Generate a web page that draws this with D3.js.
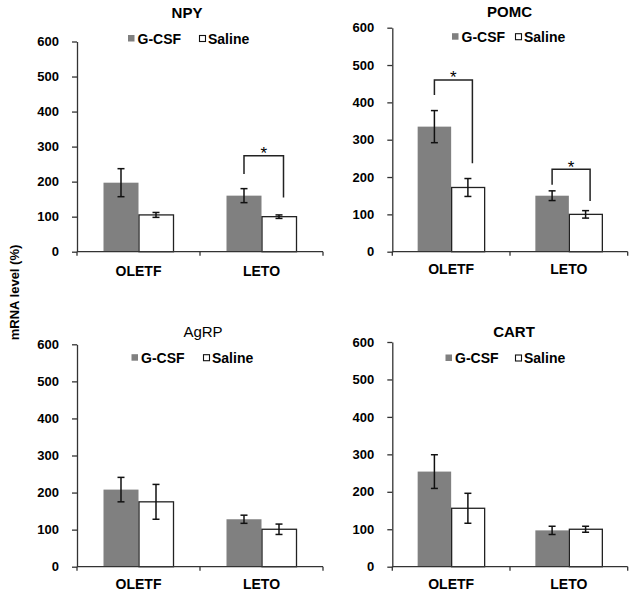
<!DOCTYPE html>
<html>
<head>
<meta charset="utf-8">
<script src="https://cdn.jsdelivr.net/npm/d3@7"></script>
<style>
  html, body { margin: 0; padding: 0; background: #fff; }
  svg { display: block; font-family: "Liberation Sans", Arial, sans-serif; }
</style>
</head>
<body>
<svg id="chart" width="635" height="596"></svg>
<script>
// ---------------- data ----------------
const categories = ["OLETF", "LETO"];
const seriesNames = ["G-CSF", "Saline"];
const panelNames = ["NPY", "POMC", "AgRP", "CART"];
const yTicks = [0, 100, 200, 300, 400, 500, 600];
const yLabel = "mRNA level (%)";

// per panel: [OLETF, LETO]
const gcsfMeans   = [[197, 160], [335, 150], [208, 128], [254, 97]];
const gcsfErrs    = [[40, 20],   [43, 13],   [33, 11],   [45, 11]];
const salineMeans = [[105, 100], [172, 100], [175, 101], [156, 100]];
const salineErrs  = [[7, 5],     [24, 10],   [47, 14],   [40, 8]];

// significance brackets
const bracketPanel    = [0, 1, 1];
const bracketCategory = ["LETO", "OLETF", "LETO"];
const bracketTop      = [274, 460, 221];
const bracketLeftEnd  = [222, 420, 179];
const bracketRightEnd = [155, 237, 136];
const bracketMark     = ["*", "*", "*"];

// ---------------- layout ----------------
const layout = [
  { x0: 77,    x1: 323,   yBase: 251.7, yTop: 41.5,  title: [187, 18, "bold"],    legend: [128, 199, 43.5],  catDy: 24 },
  { x0: 392.3, x1: 627.7, yBase: 251.7, yTop: 27.7,  title: [509.5, 17.3, "bold"], legend: [452, 515, 41.7],  catDy: 22.5 },
  { x0: 77,    x1: 323,   yBase: 566.7, yTop: 344.3, title: [203, 337, "normal"],  legend: [131.5, 203, 362.7], catDy: 22 },
  { x0: 392.3, x1: 627.7, yBase: 566.7, yTop: 342,   title: [514, 337, "bold"],    legend: [445.5, 515, 363],  catDy: 22 }
];
const gray = "#808080";
const axisColor = "#333";

const svg = d3.select("#chart");

panelNames.forEach((name, pi) => {
  const L = layout[pi];
  const g = svg.append("g");

  const x = d3.scaleBand().domain(categories).range([L.x0, L.x1]).padding(0);
  const xs = d3.scaleBand().domain(seriesNames).range([0, x.bandwidth()])
    .paddingInner(0).paddingOuter(0.757);
  const y = d3.scaleLinear().domain([0, 600]).range([L.yBase, L.yTop]);

  const rows = [];
  categories.forEach((c, ci) => {
    rows.push({ cat: c, s: "G-CSF", v: gcsfMeans[pi][ci], e: gcsfErrs[pi][ci] });
    rows.push({ cat: c, s: "Saline", v: salineMeans[pi][ci], e: salineErrs[pi][ci] });
  });

  // bars
  g.selectAll("rect.bar").data(rows).enter().append("rect")
    .attr("class", "bar")
    .attr("x", d => x(d.cat) + xs(d.s) + (d.s === "Saline" ? 0.5 : 0))
    .attr("width", d => xs.bandwidth() - (d.s === "Saline" ? 0.5 : 0))
    .attr("y", d => y(d.v))
    .attr("height", d => y(0) - y(d.v))
    .attr("fill", d => d.s === "G-CSF" ? gray : "#fff")
    .attr("stroke", d => d.s === "G-CSF" ? "none" : "#222")
    .attr("stroke-width", 1.3);

  // error bars
  const eb = g.selectAll("g.err").data(rows).enter().append("g").attr("class", "err")
    .attr("stroke", "#111").attr("stroke-width", 1.5);
  const cx = d => x(d.cat) + xs(d.s) + xs.bandwidth() / 2;
  eb.append("line").attr("x1", cx).attr("x2", cx)
    .attr("y1", d => y(d.v + d.e)).attr("y2", d => y(d.v - d.e));
  eb.append("line").attr("x1", d => cx(d) - 3.5).attr("x2", d => cx(d) + 3.5)
    .attr("y1", d => y(d.v + d.e)).attr("y2", d => y(d.v + d.e));
  eb.append("line").attr("x1", d => cx(d) - 3.5).attr("x2", d => cx(d) + 3.5)
    .attr("y1", d => y(d.v - d.e)).attr("y2", d => y(d.v - d.e));

  // y axis
  const yAxis = g.append("g").attr("transform", `translate(${L.x0},0)`)
    .call(d3.axisLeft(y).tickValues(yTicks).tickFormat(d3.format("d"))
      .tickSize(5).tickSizeOuter(0).tickPadding(13));
  yAxis.selectAll("path, line").attr("stroke", axisColor).attr("stroke-width", 1.3);
  yAxis.selectAll("text").attr("font-size", 13).attr("font-weight", "bold")
    .attr("fill", "#000").attr("font-family", "Liberation Sans, Arial, sans-serif");

  // x axis with ticks on band edges
  const xAxis = g.append("g").attr("transform", `translate(0,${L.yBase})`)
    .call(d3.axisBottom(x).tickSize(0).tickPadding(L.catDy - 10));
  xAxis.select("path").remove();
  xAxis.append("line").attr("x1", L.x0).attr("x2", L.x1).attr("y1", 0).attr("y2", 0)
    .attr("stroke", axisColor).attr("stroke-width", 1.3);
  const edges = [L.x0, ...categories.map(c => x(c) + x.bandwidth())];
  xAxis.selectAll("line.edge").data(edges).enter().append("line").attr("class", "edge")
    .attr("x1", d => d).attr("x2", d => d).attr("y1", 0).attr("y2", 4)
    .attr("stroke", axisColor).attr("stroke-width", 1.3);
  xAxis.selectAll(".tick text").attr("font-size", 14).attr("font-weight", "bold")
    .attr("fill", "#000").attr("dy", null).attr("y", L.catDy)
    .attr("font-family", "Liberation Sans, Arial, sans-serif");

  // title
  g.append("text").attr("x", L.title[0]).attr("y", L.title[1])
    .attr("text-anchor", "middle").attr("font-size", 15).attr("font-weight", L.title[2])
    .text(name);

  // legend
  const [lgx, lsx, lby] = L.legend;
  g.append("rect").attr("x", lgx).attr("y", lby - 8.5).attr("width", 6.5).attr("height", 6.5)
    .attr("fill", gray);
  g.append("text").attr("x", lgx + 9.5).attr("y", lby).attr("font-size", 14)
    .attr("font-weight", "bold").text(seriesNames[0]);
  g.append("rect").attr("x", lsx + 0.5).attr("y", lby - 8).attr("width", 6).attr("height", 6)
    .attr("fill", "#fff").attr("stroke", "#111").attr("stroke-width", 1.1);
  g.append("text").attr("x", lsx + 9).attr("y", lby).attr("font-size", 14)
    .attr("font-weight", "bold").text(seriesNames[1]);

  // brackets
  bracketPanel.forEach((bp, bi) => {
    if (bp !== pi) return;
    const c = bracketCategory[bi];
    const lx = x(c) + xs("G-CSF") + xs.bandwidth() / 2;
    const rx = x(c) + xs("Saline") + xs.bandwidth() / 2 + 4.5;
    const ty = y(bracketTop[bi]);
    g.append("path")
      .attr("d", `M${lx},${y(bracketLeftEnd[bi])}V${ty}H${rx}V${y(bracketRightEnd[bi])}`)
      .attr("fill", "none").attr("stroke", "#222").attr("stroke-width", 1.5);
    g.append("text").attr("x", (lx + rx) / 2).attr("y", ty + 3.5)
      .attr("text-anchor", "middle").attr("font-size", 17).text(bracketMark[bi]);
  });
});

// shared y label
svg.append("text")
  .attr("transform", "translate(18.5,292.5) rotate(-90)")
  .attr("text-anchor", "middle").attr("font-size", 13).attr("font-weight", "bold")
  .text(yLabel);
</script>
</body>
</html>
